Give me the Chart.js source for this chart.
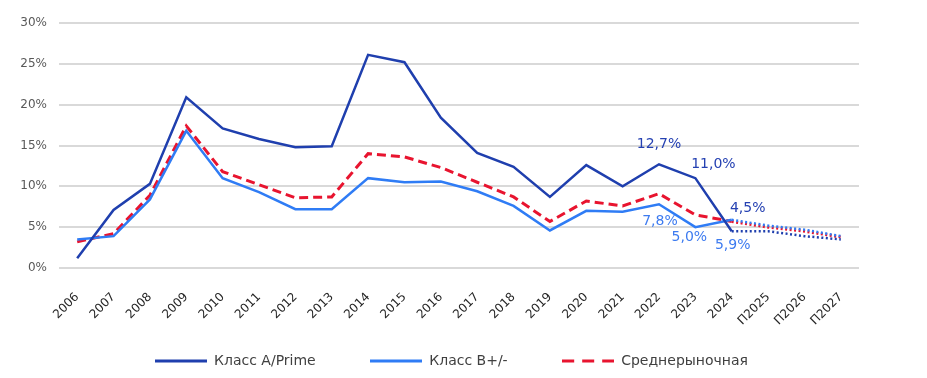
<!DOCTYPE html>
<html>
<head>
<meta charset="utf-8">
<script src="https://cdn.jsdelivr.net/npm/chart.js@4/dist/chart.umd.min.js"></script>
<style>
  html, body { margin: 0; padding: 0; background: #fff; }
  #wrap { width: 927px; height: 378px; }
</style>
</head>
<body>
<div id="wrap"><canvas id="chart"></canvas></div>
<script>
// categories and series (% values)
const years = ['2006', '2007', '2008', '2009', '2010', '2011', '2012', '2013', '2014', '2015', '2016',
    '2017', '2018', '2019', '2020', '2021', '2022', '2023', '2024', 'П2025', 'П2026', 'П2027'];
const primeVals = [1.2, 7.1, 10.3, 20.9, 17.1, 15.8, 14.8, 14.9, 26.1, 25.2, 18.4,
    14.1, 12.4, 8.7, 12.6, 10.0, 12.7, 11.0, 4.5, 4.5, 3.9, 3.5];
const bPlusVals = [3.5, 3.9, 8.4, 16.8, 11.0, 9.3, 7.2, 7.2, 11.0, 10.5, 10.6,
    9.4, 7.6, 4.6, 7.0, 6.9, 7.8, 5.0, 5.9, 5.2, 4.7, 3.9];
const avgVals = [3.2, 4.2, 8.9, 17.4, 11.8, 10.2, 8.6, 8.7, 14.0, 13.6, 12.3,
    10.5, 8.7, 5.7, 8.2, 7.6, 9.1, 6.5, 5.7, 5.0, 4.5, 3.8];
const yTicks = [0, 5, 10, 15, 20, 25, 30];

// index of last fact year, forecast segments after it are dotted
const lastFact = 18;

const darkBlue = '#1f3fae';
const lightBlue = '#2f7cf5';
const red = '#e8142f';

// data labels: dataset index, point index, offset from point
const pointLabels = [
    { ds: 0, i: 16, dx: 0, dy: -20 },
    { ds: 0, i: 17, dx: 18, dy: -14 },
    { ds: 0, i: 18, dx: 16, dy: -23 },
    { ds: 1, i: 16, dx: 1, dy: 17 },
    { ds: 1, i: 17, dx: -6, dy: 10 },
    { ds: 1, i: 18, dx: 1, dy: 26 }
];
const labelColors = ['#2541b2', '#3d7bf0'];

function forecastDash(mainDash) {
    return function (ctx) {
        return ctx.p0DataIndex >= lastFact ? [2, 2.5] : mainDash;
    };
}

// small canvas used as legend marker (Chart.js ignores dash for pointStyle 'line')
function legendLine(color, dash) {
    const cv = document.createElement('canvas');
    cv.width = 52;
    cv.height = 4;
    const c = cv.getContext('2d');
    c.strokeStyle = color;
    c.lineWidth = 3;
    c.setLineDash(dash);
    c.beginPath();
    c.moveTo(0, 2);
    c.lineTo(52, 2);
    c.stroke();
    return cv;
}
const legendMarks = [legendLine(darkBlue, []), legendLine(lightBlue, []), legendLine(red, [12, 8])];

const valueLabels = {
    id: 'valueLabels',
    afterDatasetsDraw(chart) {
        const c = chart.ctx;
        const xs = chart.scales.x;
        const ys = chart.scales.y;
        c.save();
        c.font = '14px "DejaVu Sans"';
        c.textAlign = 'center';
        c.textBaseline = 'middle';
        pointLabels.forEach(function (l) {
            const v = chart.data.datasets[l.ds].data[l.i];
            c.fillStyle = labelColors[l.ds];
            c.fillText(v.toFixed(1).replace('.', ',') + '%',
                xs.getPixelForValue(l.i) + l.dx, ys.getPixelForValue(v) + l.dy);
        });
        c.restore();
    }
};

new Chart(document.getElementById('chart'), {
    type: 'line',
    data: {
        labels: years,
        datasets: [
            {
                label: 'Класс A/Prime',
                data: primeVals,
                borderColor: darkBlue,
                backgroundColor: darkBlue,
                borderWidth: 2.5,
                segment: { borderDash: forecastDash(undefined) }
            },
            {
                label: 'Класс B+/-',
                data: bPlusVals,
                borderColor: lightBlue,
                backgroundColor: lightBlue,
                borderWidth: 2.5,
                segment: { borderDash: forecastDash(undefined) }
            },
            {
                label: 'Среднерыночная',
                data: avgVals,
                borderColor: red,
                backgroundColor: red,
                borderWidth: 3,
                borderDash: [9, 5],
                segment: { borderDash: forecastDash([9, 5]) }
            }
        ]
    },
    options: {
        responsive: true,
        maintainAspectRatio: false,
        animation: false,
        layout: { padding: { top: 23, right: 24, bottom: 0, left: 0 } },
        elements: {
            point: { radius: 0, hoverRadius: 0 },
            line: { tension: 0, borderCapStyle: 'butt', borderJoinStyle: 'miter' }
        },
        plugins: {
            tooltip: { enabled: false },
            legend: {
                position: 'bottom',
                labels: {
                    usePointStyle: true,
                    pointStyleWidth: 52,
                    padding: 10,
                    color: '#404040',
                    font: { family: 'DejaVu Sans', size: 14 },
                    generateLabels: function (chart) {
                        const items = Chart.defaults.plugins.legend.labels.generateLabels(chart);
                        items.forEach(function (it, i) {
                            it.pointStyle = legendMarks[i];
                            // gap between legend entries
                            if (i < items.length - 1) it.text += ' '.repeat(10);
                        });
                        return items;
                    }
                }
            }
        },
        scales: {
            x: {
                offset: true,
                grid: { display: false },
                border: { display: false },
                ticks: {
                    minRotation: 45,
                    maxRotation: 45,
                    autoSkip: false,
                    padding: 14,
                    color: '#262626',
                    font: { family: 'DejaVu Sans', size: 12 }
                },
                afterFit: function (scale) { scale.height = 76; }
            },
            y: {
                min: yTicks[0],
                max: yTicks[yTicks.length - 1],
                grid: { color: '#d9d9d9', lineWidth: 2, drawTicks: false },
                border: { display: false },
                ticks: {
                    stepSize: 5,
                    padding: 12,
                    color: '#595959',
                    font: { family: 'DejaVu Sans', size: 12 },
                    callback: function (v) { return v + '%'; }
                },
                afterFit: function (scale) { scale.width = 59; }
            },
            yRight: {
                position: 'right',
                grid: { display: false },
                border: { display: false },
                ticks: { display: false },
                afterFit: function (scale) { scale.width = 44; }
            }
        }
    },
    plugins: [valueLabels]
});
</script>
</body>
</html>
